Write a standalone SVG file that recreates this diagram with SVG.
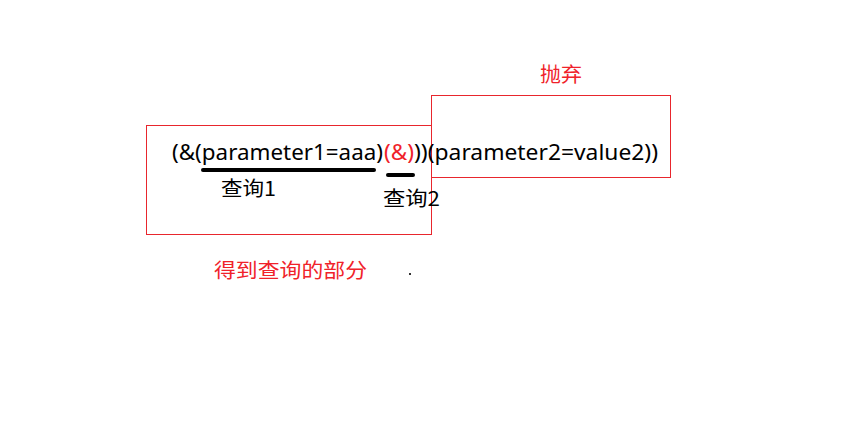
<svg xmlns="http://www.w3.org/2000/svg" width="842" height="440" viewBox="0 0 842 440">
<style>
.box{fill:none;stroke:#e8262d;stroke-width:1}
.t{font-family:"Noto Sans","Noto Sans CJK SC",sans-serif;font-size:21px;fill:#000}
.r{fill:#f0222a}
.cjk{font-family:"Noto Sans CJK SC",sans-serif;font-size:20px}
.ul{stroke:#000;stroke-width:4;stroke-linecap:round}
</style>
<rect width="842" height="440" fill="#fff"/>
<g id="box-query">
<rect class="box" x="146.5" y="125.5" width="285" height="109"/>
<text class="cjk r" x="214" y="278" textLength="153" lengthAdjust="spacingAndGlyphs">得到查询的部分</text>
</g>
<g id="box-discard">
<rect class="box" x="431.5" y="95.5" width="239" height="82"/>
<text class="cjk r" x="540" y="82" textLength="42" lengthAdjust="spacingAndGlyphs">抛弃</text>
</g>
<g id="expression">
<text class="t" x="172" y="160" textLength="211" lengthAdjust="spacingAndGlyphs">(&amp;(parameter1=aaa)</text>
<text class="t r" x="384" y="160" textLength="30" lengthAdjust="spacingAndGlyphs">(&amp;)</text>
<text class="t" x="414" y="160" textLength="244" lengthAdjust="spacingAndGlyphs">))(parameter2=value2))</text>
</g>
<g id="connectors">
<line class="ul" x1="203" y1="170" x2="374" y2="170"/>
<line class="ul" x1="388" y1="175" x2="413" y2="175"/>
</g>
<g id="label-q1">
<text class="cjk" x="221" y="196" textLength="55" lengthAdjust="spacingAndGlyphs">查询1</text>
</g>
<g id="label-q2">
<text class="cjk" x="383" y="206" textLength="57" lengthAdjust="spacingAndGlyphs">查询2</text>
</g>
<rect x="409" y="273" width="2" height="2" fill="#333"/>
</svg>
